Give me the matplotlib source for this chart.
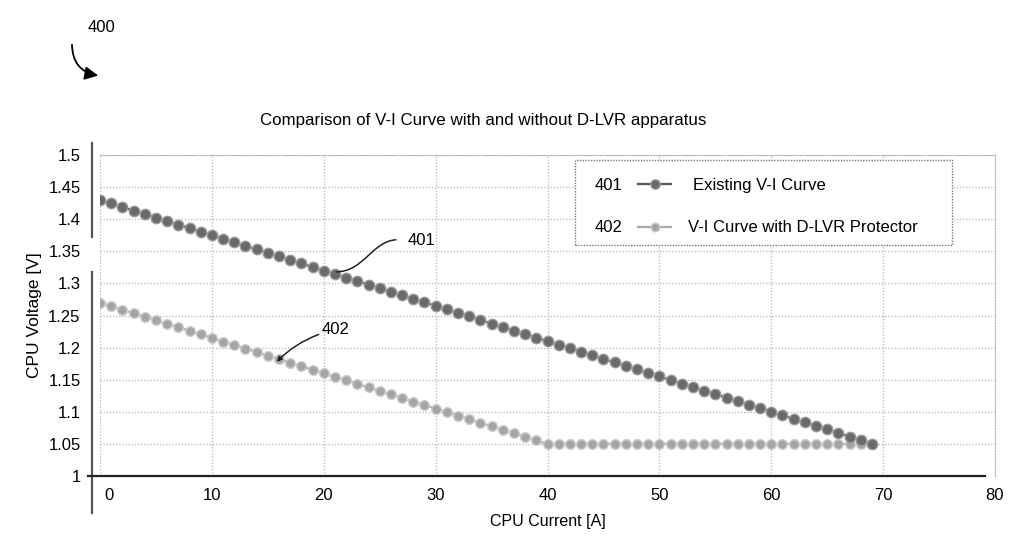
import matplotlib
matplotlib.use("Agg")
import matplotlib.pyplot as plt
from matplotlib.lines import Line2D
from matplotlib.patches import Rectangle, PathPatch
from matplotlib.path import Path
from matplotlib.transforms import ScaledTranslation

plt.rcParams['font.family'] = ['Liberation Sans', 'DejaVu Sans']

# CPU current [A], one sample per amp
current = list(range(70))

existing_vi = [1.4300, 1.4245, 1.4190, 1.4135, 1.4080, 1.4025, 1.3970, 1.3915, 1.3860, 1.3805,
               1.3750, 1.3695, 1.3640, 1.3585, 1.3530, 1.3475, 1.3420, 1.3365, 1.3310, 1.3255,
               1.3200, 1.3145, 1.3090, 1.3035, 1.2980, 1.2925, 1.2870, 1.2815, 1.2760, 1.2705,
               1.2650, 1.2595, 1.2540, 1.2485, 1.2430, 1.2375, 1.2320, 1.2265, 1.2210, 1.2155,
               1.2100, 1.2045, 1.1990, 1.1935, 1.1880, 1.1825, 1.1770, 1.1715, 1.1660, 1.1605,
               1.1550, 1.1495, 1.1440, 1.1385, 1.1330, 1.1275, 1.1220, 1.1165, 1.1110, 1.1055,
               1.1000, 1.0945, 1.0890, 1.0835, 1.0780, 1.0725, 1.0670, 1.0615, 1.0560, 1.0505]

dlvr_vi = [1.2700, 1.2645, 1.2590, 1.2535, 1.2480, 1.2425, 1.2370, 1.2315, 1.2260, 1.2205,
           1.2150, 1.2095, 1.2040, 1.1985, 1.1930, 1.1875, 1.1820, 1.1765, 1.1710, 1.1655,
           1.1600, 1.1545, 1.1490, 1.1435, 1.1380, 1.1325, 1.1270, 1.1215, 1.1160, 1.1105,
           1.1050, 1.0995, 1.0940, 1.0885, 1.0830, 1.0775, 1.0720, 1.0665, 1.0610, 1.0555,
           1.0500, 1.0500, 1.0500, 1.0500, 1.0500, 1.0500, 1.0500, 1.0500, 1.0500, 1.0500,
           1.0500, 1.0500, 1.0500, 1.0500, 1.0500, 1.0500, 1.0500, 1.0500, 1.0500, 1.0500,
           1.0500, 1.0500, 1.0500, 1.0500, 1.0500, 1.0500, 1.0500, 1.0500, 1.0500, 1.0500]

x_ticks = [0, 10, 20, 30, 40, 50, 60, 70, 80]
y_ticks = [1, 1.05, 1.1, 1.15, 1.2, 1.25, 1.3, 1.35, 1.4, 1.45, 1.5]
y_labels = ['1', '1.05', '1.1', '1.15', '1.2', '1.25', '1.3', '1.35', '1.4', '1.45', '1.5']

fig = plt.figure(figsize=(10.30, 5.56), dpi=100)
ax = fig.add_axes([100 / 1030, 80 / 556, 895 / 1030, 321 / 556])

l1, = ax.plot(current, existing_vi, color='#5a5a5a', lw=1.6, marker='o', ms=7.5,
              mfc='#6a6a6a', mec='#9a9a9a', mew=1.0, zorder=4)
l2, = ax.plot(current, dlvr_vi, color='#a8a8a8', lw=1.6, marker='o', ms=7,
              mfc='#a5a5a5', mec='#cfcfcf', mew=1.0, zorder=3)

ax.set_xlim(0, 80)
ax.set_ylim(1, 1.5)
ax.set_xticks(x_ticks)
ax.set_yticks(y_ticks)
ax.set_yticklabels(y_labels)
ax.grid(True, color='#b5b5b5', ls=(0, (1, 1.5)), lw=0.9)
ax.tick_params(length=0, labelsize=12)
ax.tick_params(axis='y', pad=14)
ax.tick_params(axis='x', pad=9)
# first x label sits right of the y axis line
ax.get_xticklabels()[0].set_transform(ax.get_xticklabels()[0].get_transform()
                                      + ScaledTranslation(0.09, 0, fig.dpi_scale_trans))

for side in ['top', 'right']:
    ax.spines[side].set_color('#b5b5b5')
    ax.spines[side].set_linestyle((0, (1, 1.5)))
for side in ['left', 'bottom']:
    ax.spines[side].set_visible(False)

# hand-drawn style axis lines (y axis broken near 1.35)
ax_tr = ax.transAxes
fx = -8 / 895
ax.add_line(Line2D([fx, fx], [(476 - 143) / 321, (476 - 237) / 321], transform=ax_tr,
                   color='#555555', lw=1.6, clip_on=False))
ax.add_line(Line2D([fx, fx], [(476 - 272) / 321, (476 - 513) / 321], transform=ax_tr,
                   color='#555555', lw=1.6, clip_on=False))
ax.add_line(Line2D([-12 / 895, 885 / 895], [0, 0], transform=ax_tr,
                   color='#222222', lw=1.6, clip_on=False))

ax.set_ylabel('CPU Voltage [V]', fontsize=12.5)
ax.yaxis.set_label_coords(-58 / 895, 0.5)
ax.set_xlabel('CPU Current [A]', fontsize=11.5)
ax.xaxis.set_label_coords(0.5, -38 / 321)

fig.text(483 / 1030, 1 - 121 / 556, 'Comparison of V-I Curve with and without D-LVR apparatus',
         ha='center', va='center', fontsize=12.2)

# legend
ax.add_patch(Rectangle((475 / 895, (476 - 245) / 321), 377 / 895, 85 / 321, transform=ax_tr,
                       fill=True, fc='white', ec='#7a7a7a', ls=(0, (1, 1)), lw=1.0, zorder=5))
leg = ax.legend([l1, l2], ['Existing V-I Curve', 'V-I Curve with D-LVR Protector'],
                loc='center left', bbox_to_anchor=(538 / 895, (476 - 206.5) / 321),
                frameon=False, fontsize=12, handlelength=2.0, handletextpad=1.0,
                labelspacing=1.67, borderpad=0, borderaxespad=0, markerscale=0.9,
                numpoints=1)
leg.set_zorder(6)
leg.get_texts()[0].set_x(5)
ax.text(495 / 895, (476 - 185) / 321, '401', transform=ax_tr, fontsize=12, va='center', zorder=7)
ax.text(495 / 895, (476 - 228) / 321, '402', transform=ax_tr, fontsize=12, va='center', zorder=7)

# reference numerals and leaders
lead = Path([(21.1, 1.318), (23.6, 1.318), (24.3, 1.366), (26.5, 1.368)],
            [Path.MOVETO, Path.CURVE4, Path.CURVE4, Path.CURVE4])
ax.add_patch(PathPatch(lead, fill=False, color='#222222', lw=1.1, zorder=6))
ax.text(27.5, 1.367, '401', fontsize=12, va='center')
ax.annotate('402', xy=(15.8, 1.178), xytext=(19.8, 1.228), fontsize=12, va='center',
            arrowprops=dict(arrowstyle='-|>', color='#222222', lw=1.1, shrinkA=0, shrinkB=0,
                            mutation_scale=7, connectionstyle='arc3,rad=0.15'))

fig.text(101 / 1030, 1 - 27 / 556, '400', ha='center', va='center', fontsize=12)
fig.patches.append(matplotlib.patches.FancyArrowPatch(
    (72, 556 - 42), (101, 556 - 76), transform=None, arrowstyle='-|>', mutation_scale=20,
    connectionstyle='arc3,rad=0.45', color='black', lw=1.3))

fig.savefig('out.png', dpi=100)
